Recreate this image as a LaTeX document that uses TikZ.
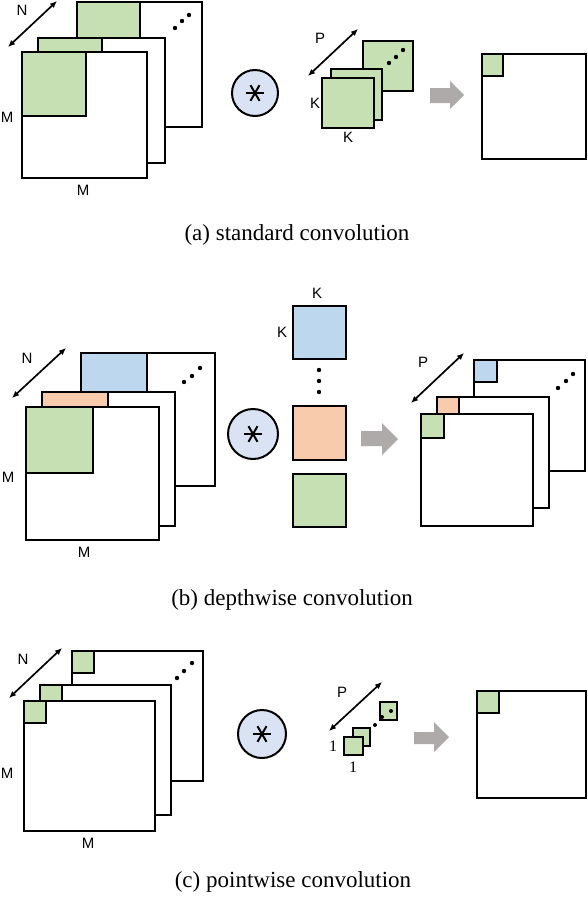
\documentclass[tikz,border=0pt]{standalone}
\usepackage{fontspec}
\setmainfont{Liberation Serif}
\newfontfamily\labfont{Liberation Sans}
\usetikzlibrary{arrows.meta}
\definecolor{kgreen}{HTML}{C6E0B4}
\definecolor{kblue}{HTML}{BDD7EE}
\definecolor{korange}{HTML}{F8CBAD}
\definecolor{circblue}{HTML}{DAE3F3}
\definecolor{arrowgray}{HTML}{AEAAAA}
\begin{document}
\begin{tikzpicture}[x=1pt,y=-1pt,
  frame/.style={draw=black,line width=2.6pt,fill=white},
  gpatch/.style={draw=black,line width=2.6pt,fill=kgreen},
  bpatch/.style={draw=black,line width=2.6pt,fill=kblue},
  opatch/.style={draw=black,line width=2.6pt,fill=korange},
  dimarrow/.style={line width=1.7pt,{Latex[length=7pt,width=6pt]}-{Latex[length=7pt,width=6pt]}},
  lbl/.style={font=\labfont\fontsize{15}{17}\selectfont,inner sep=0pt},
  onelbl/.style={font=\fontsize{16}{18}\selectfont,inner sep=0pt},
  captext/.style={font=\fontsize{23}{26}\selectfont,inner sep=0pt,anchor=base},
  conv/.style={circle,draw=black,line width=2pt,fill=circblue,inner sep=0pt},
  star/.style={line width=2pt},
  gray arrow/.style={fill=arrowgray,draw=none}]
\useasboundingbox (0,0) rectangle (588,902);

% ================= (a) standard convolution =================
\draw[frame] (77,2) rectangle (202,127);
\draw[gpatch] (77,2) rectangle (140,38);
\draw[frame] (38,38) rectangle (165,163);
\draw[gpatch] (38,38) rectangle (102,52);
\draw[frame] (22,52) rectangle (147,178);
\draw[gpatch] (22,52) rectangle (86,116);
\foreach \p in {(175,28),(182,21),(189,15)} \fill \p circle (2.2pt);
\coordinate (aN1) at (8,47); \coordinate (aN2) at (57,1);
\draw[dimarrow] (aN1) -- (aN2);
\node[lbl] (aNl) at (22,10) {N};
\node[lbl] (aMl) at (7,117) {M};
\node[lbl] (aMb) at (83,190) {M};

\node[conv,minimum size=46pt] (ca) at (255,93) {};
\foreach \a in {0,60,120} \draw[star] ([shift={(\a:9)}]ca.center) -- ([shift={(\a+180:9)}]ca.center);

\draw[gpatch] (363,41) rectangle (413,91);
\foreach \p in {(389,63),(396,57),(403,50)} \fill \p circle (2.2pt);
\draw[gpatch] (331,69) rectangle (382,120);
\draw[gpatch] (322,78) rectangle (374,128);
\coordinate (aP1) at (308,76); \coordinate (aP2) at (358,29);
\draw[dimarrow] (aP1) -- (aP2);
\node[lbl] (aPl) at (320,38) {P};
\node[lbl] (aKl) at (315,103) {K};
\node[lbl] (aKb) at (348,137) {K};

\fill[gray arrow] (430,88) -- (450,88) -- (450,81) -- (464,95) -- (450,109) -- (450,103) -- (430,103) -- cycle;

\draw[frame] (482,54) rectangle (586,159);
\draw[gpatch] (482,54) rectangle (503,76);

\node[captext] (capa) at (297,240) {(a) standard convolution};

% ================= (b) depthwise convolution =================
\draw[frame] (81,353) rectangle (215,486);
\draw[bpatch] (81,353) rectangle (147,392);
\draw[frame] (42,392) rectangle (175,526);
\draw[opatch] (42,392) rectangle (108,407);
\draw[frame] (26,407) rectangle (159,540);
\draw[gpatch] (26,407) rectangle (93,473);
\foreach \p in {(184,382),(192,376),(200,368)} \fill \p circle (2.2pt);
\coordinate (bN1) at (12,398); \coordinate (bN2) at (66,348);
\draw[dimarrow] (bN1) -- (bN2);
\node[lbl] (bNl) at (27,358) {N};
\node[lbl] (bMl) at (8,477) {M};
\node[lbl] (bMb) at (84,552) {M};

\node[conv,minimum size=50pt] (cb) at (253,434) {};
\foreach \a in {0,60,120} \draw[star] ([shift={(\a:9)}]cb.center) -- ([shift={(\a+180:9)}]cb.center);

\draw[bpatch] (293,306) rectangle (346,359);
\foreach \p in {(319,370),(319,381),(319,392)} \fill \p circle (2.2pt);
\draw[opatch] (293,406) rectangle (346,460);
\draw[gpatch] (293,474) rectangle (346,527);
\node[lbl] (bKt) at (317,293) {K};
\node[lbl] (bKl) at (282,332) {K};

\fill[gray arrow] (361,431) -- (382,431) -- (382,423) -- (398,439) -- (382,455) -- (382,446) -- (361,446) -- cycle;

\draw[frame] (474,360) rectangle (585,471);
\draw[bpatch] (474,360) rectangle (497,382);
\draw[frame] (437,397) rectangle (549,508);
\draw[opatch] (437,397) rectangle (459,414);
\draw[frame] (421,414) rectangle (533,526);
\draw[gpatch] (421,414) rectangle (444,438);
\foreach \p in {(558,388),(566,381),(573,374)} \fill \p circle (2.2pt);
\coordinate (bP1) at (411,403); \coordinate (bP2) at (464,353);
\draw[dimarrow] (bP1) -- (bP2);
\node[lbl] (bPl) at (423,362) {P};

\node[captext] (capb) at (292,605) {(b) depthwise convolution};

% ================= (c) pointwise convolution =================
\draw[frame] (72,651) rectangle (203,781);
\draw[gpatch] (72,651) rectangle (94,673);
\draw[frame] (40,685) rectangle (171,815);
\draw[gpatch] (40,685) rectangle (62,701);
\draw[frame] (24,701) rectangle (155,831);
\draw[gpatch] (24,701) rectangle (46,723);
\foreach \p in {(177,678),(184,671),(192,663)} \fill \p circle (2.2pt);
\coordinate (cN1) at (9,698); \coordinate (cN2) at (62,648);
\draw[dimarrow] (cN1) -- (cN2);
\node[lbl] (cNl) at (23,659) {N};
\node[lbl] (cMl) at (7,773) {M};
\node[lbl] (cMb) at (88,843) {M};

\node[conv,minimum size=48pt] (cc) at (262,734) {};
\foreach \a in {0,60,120} \draw[star] ([shift={(\a:9)}]cc.center) -- ([shift={(\a+180:9)}]cc.center);

\draw[gpatch,line width=2pt] (380,702) rectangle (397,720);
\fill (391,711) circle (2pt);
\fill (382,717) circle (2pt);
\fill (375,725) circle (2pt);
\draw[gpatch,line width=2pt] (353,728) rectangle (370,746);
\draw[gpatch,line width=2pt] (344,737) rectangle (363,755);
\coordinate (cP1) at (329,731); \coordinate (cP2) at (382,682);
\draw[dimarrow] (cP1) -- (cP2);
\node[lbl] (cPl) at (342,692) {P};
\node[onelbl] (c1l) at (333,746) {1};
\node[onelbl] (c1b) at (353,767) {1};

\fill[gray arrow] (414,732) -- (434,732) -- (434,722) -- (449,737) -- (434,752) -- (434,744) -- (414,744) -- cycle;

\draw[frame] (477,691) rectangle (586,798);
\draw[gpatch] (477,691) rectangle (499,713);

\node[captext] (capc) at (293,887) {(c) pointwise convolution};
\end{tikzpicture}
\end{document}
